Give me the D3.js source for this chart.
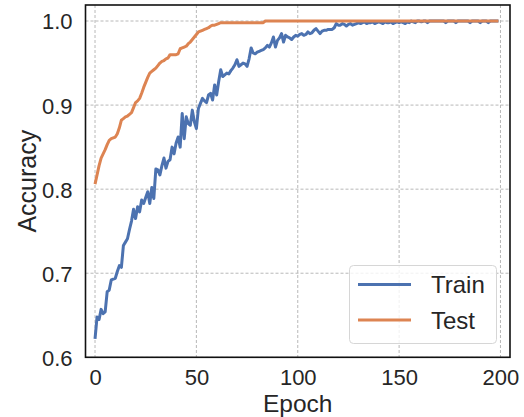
<!DOCTYPE html>
<html>
<head>
<meta charset="utf-8">
<script src="https://cdn.jsdelivr.net/npm/d3@7"></script>
<style>
  html, body { margin: 0; padding: 0; background: #fff; }
  svg { display: block; font-family: "Liberation Sans", Arial, sans-serif; }
</style>
</head>
<body>
<svg id="chart" width="524" height="417"></svg>
<script>
// Training / test accuracy per epoch
const trainAcc = [
  0.622, 0.648, 0.645, 0.657, 0.652, 0.654, 0.678, 0.680, 0.692, 0.693,
  0.694, 0.702, 0.709, 0.707, 0.733, 0.737, 0.741, 0.752, 0.762, 0.776,
  0.765, 0.779, 0.773, 0.787, 0.783, 0.790, 0.797, 0.783, 0.802, 0.789,
  0.824, 0.823, 0.817, 0.828, 0.837, 0.825, 0.833, 0.835, 0.850, 0.842,
  0.855, 0.862, 0.850, 0.890, 0.860, 0.886, 0.878, 0.876, 0.894, 0.880,
  0.872, 0.896, 0.902, 0.908, 0.905, 0.903, 0.912, 0.914, 0.906, 0.924,
  0.912, 0.928, 0.942, 0.934, 0.936, 0.938, 0.937, 0.941, 0.944, 0.948,
  0.954, 0.946, 0.948, 0.950, 0.949, 0.946, 0.955, 0.968, 0.962, 0.961,
  0.963, 0.964, 0.965, 0.966, 0.968, 0.971, 0.969, 0.974, 0.981, 0.969,
  0.977, 0.980, 0.985, 0.975, 0.983, 0.981, 0.980, 0.978, 0.981, 0.983,
  0.982, 0.984, 0.985, 0.983, 0.984, 0.987, 0.985, 0.986, 0.989, 0.991,
  0.988, 0.985, 0.988, 0.989, 0.989, 0.990, 0.990, 0.990, 0.992, 0.997,
  0.995, 0.995, 0.997, 0.996, 0.994, 0.996, 0.997, 0.995, 0.996, 0.997,
  0.998, 0.997, 0.998, 0.999, 0.997, 0.998, 0.998, 0.999, 0.997, 0.998,
  0.999, 0.998, 0.997, 0.999, 0.998, 0.998, 0.999, 0.997, 0.998, 0.999,
  0.998, 0.999, 0.998, 0.997, 0.999, 0.998, 1.000, 0.999, 0.998, 1.000,
  1.000, 0.999, 1.000, 1.000, 0.998, 1.000, 1.000, 1.000, 1.000, 1.000,
  1.000, 1.000, 1.000, 0.998, 1.000, 1.000, 1.000, 1.000, 0.998, 1.000,
  1.000, 1.000, 1.000, 1.000, 1.000, 0.998, 1.000, 1.000, 1.000, 1.000,
  0.998, 1.000, 1.000, 1.000, 0.998, 1.000, 1.000, 1.000, 1.000, 1.000
];
const testAcc = [
  0.806, 0.817, 0.828, 0.837, 0.842, 0.847, 0.853, 0.858, 0.860, 0.861,
  0.862, 0.866, 0.873, 0.882, 0.884, 0.886, 0.887, 0.889, 0.891, 0.897,
  0.903, 0.905, 0.908, 0.914, 0.921, 0.927, 0.933, 0.938, 0.940, 0.942,
  0.944, 0.947, 0.950, 0.952, 0.953, 0.955, 0.956, 0.960, 0.960, 0.960,
  0.960, 0.961, 0.967, 0.968, 0.969, 0.970, 0.973, 0.975, 0.978, 0.981,
  0.984, 0.987, 0.988, 0.989, 0.990, 0.991, 0.992, 0.994, 0.995, 0.995,
  0.996, 0.997, 0.998, 0.998, 0.998, 0.998, 0.998, 0.998, 0.998, 0.998,
  0.998, 0.998, 0.998, 0.998, 0.998, 0.998, 0.998, 0.998, 0.998, 0.998,
  0.998, 0.998, 0.998, 0.998, 1.000, 1.000, 1.000, 1.000, 1.000, 1.000,
  1.000, 1.000, 1.000, 1.000, 1.000, 1.000, 1.000, 1.000, 1.000, 1.000,
  1.000, 1.000, 1.000, 1.000, 1.000, 1.000, 1.000, 1.000, 1.000, 1.000,
  1.000, 1.000, 1.000, 1.000, 1.000, 1.000, 1.000, 1.000, 1.000, 1.000,
  1.000, 1.000, 1.000, 1.000, 1.000, 1.000, 1.000, 1.000, 1.000, 1.000,
  1.000, 1.000, 1.000, 1.000, 1.000, 1.000, 1.000, 1.000, 1.000, 1.000,
  1.000, 1.000, 1.000, 1.000, 1.000, 1.000, 1.000, 1.000, 1.000, 1.000,
  1.000, 1.000, 1.000, 1.000, 1.000, 1.000, 1.000, 1.000, 1.000, 1.000,
  1.000, 1.000, 1.000, 1.000, 1.000, 1.000, 1.000, 1.000, 1.000, 1.000,
  1.000, 1.000, 1.000, 1.000, 1.000, 1.000, 1.000, 1.000, 1.000, 1.000,
  1.000, 1.000, 1.000, 1.000, 1.000, 1.000, 1.000, 1.000, 1.000, 1.000,
  1.000, 1.000, 1.000, 1.000, 1.000, 1.000, 1.000, 1.000, 1.000, 1.000
];
const seriesNames = ["Train", "Test"];
const seriesColors = ["#4c72b0", "#dd8452"];
const xTicks = [0, 50, 100, 150, 200];
const yTicks = [0.6, 0.7, 0.8, 0.9, 1.0];

const svg = d3.select("#chart");
const plotL = 85.5, plotR = 510, plotT = 5, plotB = 357.3;

const x = d3.scaleLinear().domain([-4.7, 204.7]).range([plotL, plotR]);
const y = d3.scaleLinear().domain([0.6, 1.0 + 16 / 840]).range([plotB, plotT]);

// grid
const grid = svg.append("g").attr("stroke", "#b0b0b0").attr("stroke-width", 0.9)
  .attr("stroke-dasharray", "3,2");
grid.selectAll("line.gx").data(xTicks).join("line")
  .attr("x1", d => x(d)).attr("x2", d => x(d)).attr("y1", plotT).attr("y2", plotB);
grid.selectAll("line.gy").data(yTicks).join("line")
  .attr("x1", plotL).attr("x2", plotR).attr("y1", d => y(d)).attr("y2", d => y(d));

// series lines
const series = [trainAcc, testAcc];
const line = d3.line().x((d, i) => x(i)).y(d => y(d));
series.forEach((vals, k) => {
  svg.append("path").datum(vals)
    .attr("fill", "none")
    .attr("stroke", seriesColors[k])
    .attr("stroke-width", 3)
    .attr("stroke-linejoin", "round")
    .attr("stroke-linecap", "butt")
    .attr("d", line);
});

// frame
svg.append("rect").attr("x", plotL).attr("y", plotT)
  .attr("width", plotR - plotL).attr("height", plotB - plotT)
  .attr("fill", "none").attr("stroke", "#111").attr("stroke-width", 1.6);

// axes (labels only, no tick marks)
const xAxis = d3.axisBottom(x).tickValues(xTicks).tickSize(0).tickPadding(0)
  .tickFormat(d3.format("d"));
const gx = svg.append("g").attr("transform", `translate(0,${plotB})`).call(xAxis);
gx.select(".domain").remove();
gx.selectAll("text").attr("dy", null).attr("y", 28)
  .attr("font-size", 22).attr("fill", "#262626")
  .attr("font-family", "'Liberation Sans', Arial, sans-serif");

const yAxis = d3.axisLeft(y).tickValues(yTicks).tickSize(0).tickPadding(0)
  .tickFormat(d3.format(".1f"));
const gy = svg.append("g").attr("transform", `translate(${plotL},0)`).call(yAxis);
gy.select(".domain").remove();
gy.selectAll("text").attr("x", -13).attr("dy", "0.36em")
  .attr("font-size", 22).attr("fill", "#262626")
  .attr("font-family", "'Liberation Sans', Arial, sans-serif");

// axis titles
svg.append("text").attr("x", (plotL + plotR) / 2).attr("y", 412)
  .attr("text-anchor", "middle").attr("font-size", 24.5).attr("fill", "#262626")
  .text("Epoch");
svg.append("text")
  .attr("transform", `translate(36,${(plotT + plotB) / 2}) rotate(-90)`)
  .attr("text-anchor", "middle").attr("font-size", 25).attr("fill", "#262626")
  .text("Accuracy");

// legend
const lg = svg.append("g");
lg.append("rect").attr("x", 349.5).attr("y", 265.5).attr("width", 147).attr("height", 78)
  .attr("rx", 4).attr("fill", "#fff").attr("fill-opacity", 0.8)
  .attr("stroke", "#d6d6d6").attr("stroke-width", 1);
seriesNames.forEach((name, k) => {
  const ly = 284.5 + k * 35.5;
  lg.append("line").attr("x1", 358).attr("x2", 411).attr("y1", ly).attr("y2", ly)
    .attr("stroke", seriesColors[k]).attr("stroke-width", 3);
  lg.append("text").attr("x", 431).attr("y", ly).attr("dy", "0.36em")
    .attr("font-size", 24).attr("fill", "#262626").text(name);
});
</script>
</body>
</html>
